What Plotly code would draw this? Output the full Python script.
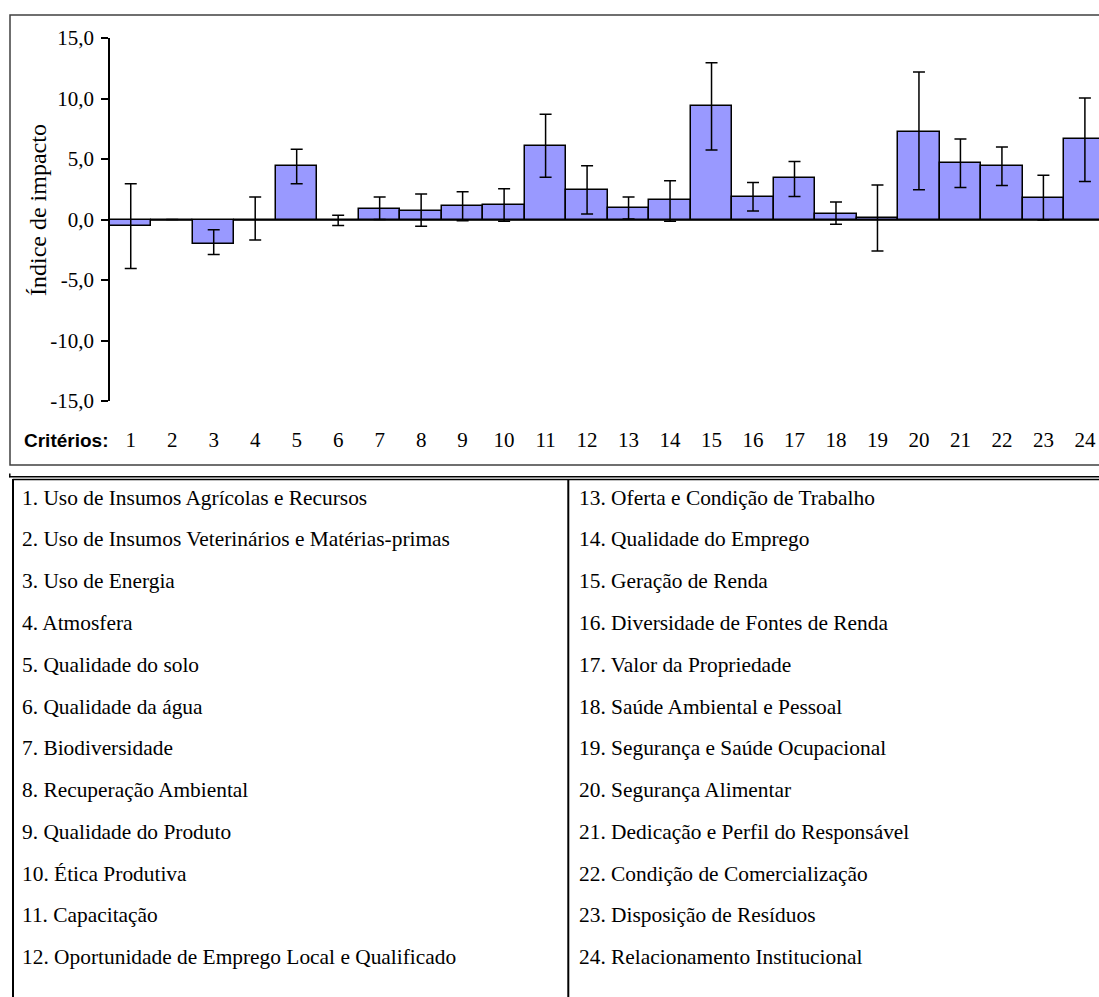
import plotly.graph_objects as go

# ---------------- data ----------------
criterios = list(range(1, 25))
indice = [-0.5, 0.0, -2.0, 0.0, 4.45, 0.0, 0.85, 0.7, 1.1, 1.2, 6.1, 2.45,
          0.95, 1.6, 9.35, 1.9, 3.4, 0.45, 0.1, 7.25, 4.65, 4.4, 1.8, 6.65]
erro_mais = [3.45, 0.0, 1.15, 1.85, 1.35, 0.35, 1.0, 1.4, 1.2, 1.35, 2.6, 2.0,
             0.9, 1.6, 3.6, 1.15, 1.4, 1.0, 2.75, 4.95, 2.0, 1.6, 1.85, 3.4]
erro_menos = [3.55, 0.0, 0.9, 1.7, 1.5, 0.5, 0.85, 1.25, 1.2, 1.35, 2.6, 2.0,
              0.9, 1.75, 3.6, 1.2, 1.5, 0.85, 2.7, 4.8, 2.0, 1.6, 1.85, 3.5]
y_ticks = [-15, -10, -5, 0, 5, 10, 15]
y_ticktext = ["-15,0", "-10,0", "-5,0", "0,0", "5,0", "10,0", "15,0"]
nomes = [
    "Uso de Insumos Agrícolas e Recursos",
    "Uso de Insumos Veterinários e Matérias-primas",
    "Uso de Energia",
    "Atmosfera",
    "Qualidade do solo",
    "Qualidade da água",
    "Biodiversidade",
    "Recuperação Ambiental",
    "Qualidade do Produto",
    "Ética Produtiva",
    "Capacitação",
    "Oportunidade de Emprego Local e Qualificado",
    "Oferta e Condição de Trabalho",
    "Qualidade do Emprego",
    "Geração de Renda",
    "Diversidade de Fontes de Renda",
    "Valor da Propriedade",
    "Saúde Ambiental e Pessoal",
    "Segurança e Saúde Ocupacional",
    "Segurança Alimentar",
    "Dedicação e Perfil do Responsável",
    "Condição de Comercialização",
    "Disposição de Resíduos",
    "Relacionamento Institucional",
]
y_title = "Índice de impacto"
x_label = "Critérios:"

# ---------------- layout helpers ----------------
W, H = 1099, 997
ML, MT, MB = 110, 38, 596          # plot area: x 110..1099, y 38..401
PW, PH = W - ML, H - MT - MB
SERIF = "Liberation Serif, Times New Roman, serif"
SANS = "Liberation Sans, Arial, sans-serif"


def px(x):
    """page pixel x -> paper coordinate"""
    return (x - ML) / PW


def py(y):
    """page pixel y -> paper coordinate"""
    return (MT + PH - y) / PH


fig = go.Figure()
fig.add_trace(go.Bar(
    x=criterios, y=indice,
    marker=dict(color="#9999FF", line=dict(color="black", width=1.5)),
    error_y=dict(type="data", symmetric=False, array=erro_mais,
                 arrayminus=erro_menos, color="black", thickness=1.5, width=6),
    showlegend=False,
))

fig.update_layout(
    width=W, height=H,
    margin=dict(l=ML, r=0, t=MT, b=MB, pad=0, autoexpand=False),
    paper_bgcolor="white", plot_bgcolor="white",
    bargap=0,
    xaxis=dict(range=[0.5, 24.34], tickvals=criterios,
               ticktext=[str(c) for c in criterios],
               showgrid=False, zeroline=False, showline=False, ticks="",
               automargin=False,
               tickfont=dict(family=SERIF, size=21, color="black"),
               ticklabelstandoff=24),
    yaxis=dict(range=[-15, 15], tickvals=y_ticks, ticktext=y_ticktext,
               showgrid=False, zeroline=True, zerolinecolor="#303030",
               zerolinewidth=1.5, showline=True, linecolor="black",
               linewidth=1.5, ticks="outside", ticklen=7, tickwidth=1.5,
               tickcolor="black", automargin=False,
               tickfont=dict(family=SERIF, size=21, color="black"),
               ticklabelstandoff=3),
)

shapes = []
# chart border (right edge lies beyond the page)
shapes.append(dict(type="rect", xref="paper", yref="paper",
                   x0=px(10), x1=px(1110), y0=py(465), y1=py(15),
                   line=dict(color="#404040", width=1.5), layer="below"))
# table: double top rule
shapes.append(dict(type="line", xref="paper", yref="paper",
                   x0=px(9), x1=px(W + 5), y0=py(476.7), y1=py(476.7),
                   line=dict(color="black", width=1.5)))
shapes.append(dict(type="line", xref="paper", yref="paper",
                   x0=px(12.7), x1=px(W + 5), y0=py(479.5), y1=py(479.5),
                   line=dict(color="black", width=1.5)))
shapes.append(dict(type="line", xref="paper", yref="paper",
                   x0=px(9.8), x1=px(9.8), y0=py(473.5), y1=py(477.2),
                   line=dict(color="black", width=1.5)))
# table: left border and column divider
shapes.append(dict(type="line", xref="paper", yref="paper",
                   x0=px(13), x1=px(13), y0=py(479), y1=py(H + 5),
                   line=dict(color="black", width=2)))
shapes.append(dict(type="line", xref="paper", yref="paper",
                   x0=px(568.3), x1=px(568.3), y0=py(479), y1=py(H + 5),
                   line=dict(color="black", width=2)))

annotations = []
annotations.append(dict(text=y_title, textangle=-90, xref="paper", yref="paper",
                        x=px(38), y=py(298), xanchor="center", yanchor="bottom",
                        showarrow=False,
                        font=dict(family=SERIF, size=24, color="black")))
annotations.append(dict(text="<b>" + x_label + "</b>", xref="paper", yref="paper",
                        x=px(22), y=py(440), xanchor="left", yanchor="middle",
                        showarrow=False,
                        font=dict(family=SANS, size=19, color="black")))

row0, row_step = 497.5, 41.8
for i, nome in enumerate(nomes):
    col = i // 12
    row = i % 12
    annotations.append(dict(
        text=f"{i + 1}. {nome}", xref="paper", yref="paper",
        x=px(20 if col == 0 else 577), y=py(row0 + row * row_step),
        xanchor="left", yanchor="middle", showarrow=False,
        font=dict(family=SERIF, size=21.4, color="black")))

fig.update_layout(shapes=shapes, annotations=annotations)
fig.write_html(
    "out.html",
    config={"displayModeBar": False},
    post_script="document.body.style.margin='0';document.body.style.overflow='hidden';",
)
